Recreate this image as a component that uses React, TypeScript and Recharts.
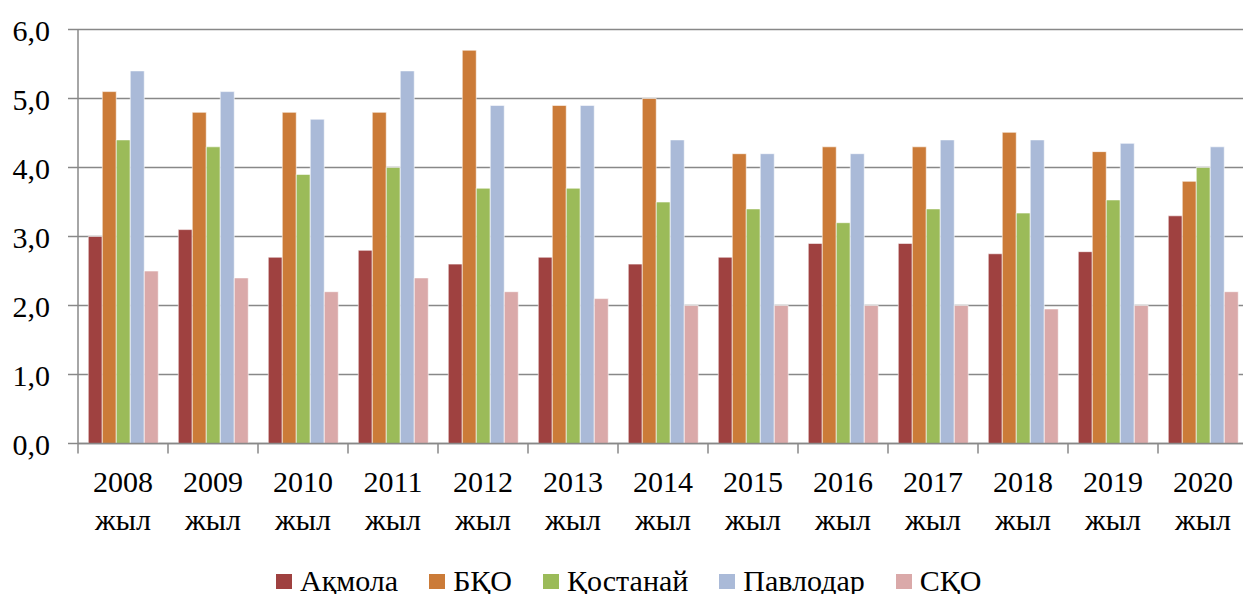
import React from 'react';
import { BarChart, Bar, XAxis, YAxis, CartesianGrid, Legend } from 'recharts';

const categories = ['2008 жыл', '2009 жыл', '2010 жыл', '2011 жыл', '2012 жыл', '2013 жыл', '2014 жыл', '2015 жыл', '2016 жыл', '2017 жыл', '2018 жыл', '2019 жыл', '2020 жыл'];
const akmola = [3.0, 3.1, 2.7, 2.8, 2.6, 2.7, 2.6, 2.7, 2.9, 2.9, 2.75, 2.78, 3.3];
const bko = [5.1, 4.8, 4.8, 4.8, 5.7, 4.9, 5.0, 4.2, 4.3, 4.3, 4.51, 4.23, 3.8];
const kostanay = [4.4, 4.3, 3.9, 4.0, 3.7, 3.7, 3.5, 3.4, 3.2, 3.4, 3.34, 3.53, 4.0];
const pavlodar = [5.4, 5.1, 4.7, 5.4, 4.9, 4.9, 4.4, 4.2, 4.2, 4.4, 4.4, 4.35, 4.3];
const sko = [2.5, 2.4, 2.2, 2.4, 2.2, 2.1, 2.0, 2.0, 2.0, 2.0, 1.95, 2.0, 2.2];
const yTicks = [0, 1, 2, 3, 4, 5, 6];

const seriesNames = ['Ақмола', 'БҚО', 'Қостанай', 'Павлодар', 'СҚО'];
const seriesKeys = ['akmola', 'bko', 'kostanay', 'pavlodar', 'sko'];
const seriesColors = ['#9F4140', '#CB7B38', '#9BBB59', '#AABAD8', '#DAA9A9'];

const data = categories.map((c, i) => ({
  name: c,
  akmola: akmola[i],
  bko: bko[i],
  kostanay: kostanay[i],
  pavlodar: pavlodar[i],
  sko: sko[i],
}));

const FONT = "'Liberation Serif', Tinos, 'Times New Roman', Times, 'DejaVu Serif', serif";
const GRID = '#888888';

const XTick = (props: any) => {
  const { x, y, payload } = props;
  const parts = String(payload.value).split(' ');
  const half = 45;
  return (
    <g>
      <line x1={x - half} y1={y} x2={x - half} y2={y + 10} stroke={GRID} strokeWidth={1.5} />
      <text x={x} y={y + 48} textAnchor="middle" style={{ fontFamily: FONT }} fontSize={30} fill="#000">
        {parts[0]}
      </text>
      <text x={x} y={y + 86.5} textAnchor="middle" style={{ fontFamily: FONT }} fontSize={30} fill="#000">
        {parts[1]}
      </text>
    </g>
  );
};

const YTick = (props: any) => {
  const { x, y, payload } = props;
  return (
    <text x={x} y={y + 11} textAnchor="end" style={{ fontFamily: FONT }} fontSize={30} fill="#000">
      {Number(payload.value).toFixed(1).replace('.', ',')}
    </text>
  );
};

const LegendContent = () => (
  <div style={{ height: 50, position: 'relative', width: 1243 }}>
    <div
      style={{
        position: 'absolute',
        left: 276,
        top: 24,
        display: 'flex',
        alignItems: 'center',
        whiteSpace: 'nowrap',
        fontFamily: FONT,
        fontSize: 30,
        lineHeight: '26px',
        color: '#000',
      }}
    >
      {seriesNames.map((n, i) => (
        <div key={n} style={{ display: 'flex', alignItems: 'center', marginRight: 31 }}>
          <div style={{ width: 16, height: 15, background: seriesColors[i], marginRight: 8 }} />
          <span>{n}</span>
        </div>
      ))}
    </div>
  </div>
);

export default function App() {
  return (
    <div style={{ position: 'absolute', left: 0, top: 0, width: 1243, height: 594, overflow: 'hidden', background: '#fff' }}>
      <BarChart
        width={1250}
        height={594}
        data={data}
        margin={{ top: 29.5, right: 2, left: 0, bottom: 0 }}
        barCategoryGap="11.4%"
        barGap={0}
      >
        <CartesianGrid vertical={false} stroke={GRID} strokeWidth={1.5} />
        <XAxis
          dataKey="name"
          height={100.5}
          interval={0}
          tickLine={false}
          tickSize={0}
          tickMargin={0}
          axisLine={{ stroke: GRID, strokeWidth: 1.5 }}
          tick={<XTick />}
        />
        <YAxis
          width={78}
          domain={[0, 6]}
          ticks={yTicks}
          interval={0}
          tickSize={10}
          tickMargin={18}
          tickLine={{ stroke: GRID, strokeWidth: 1.5 }}
          axisLine={{ stroke: GRID, strokeWidth: 1.5 }}
          tick={<YTick />}
        />
        <Legend
          verticalAlign="bottom"
          content={<LegendContent />}
          wrapperStyle={{ left: 0, width: 1243, height: 50 }}
        />
        {seriesKeys.map((k, i) => (
          <Bar
            key={k}
            dataKey={k}
            name={seriesNames[i]}
            fill={seriesColors[i]}
            stroke="#ffffff"
            strokeWidth={0.6}
            isAnimationActive={false}
          />
        ))}
      </BarChart>
    </div>
  );
}
